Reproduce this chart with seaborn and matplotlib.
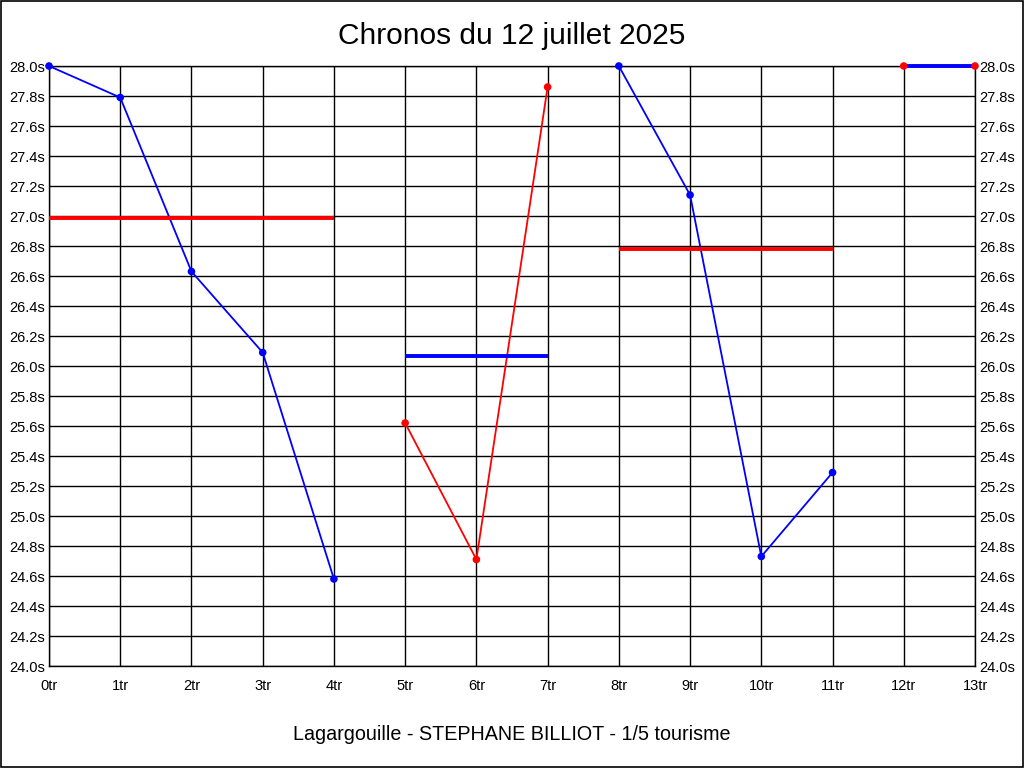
import matplotlib
matplotlib.use("Agg")
import matplotlib.pyplot as plt
import seaborn as sns
import pandas as pd
import numpy as np
from matplotlib.ticker import FixedLocator, FuncFormatter

sns.set_theme(style="white")
plt.rcParams['font.family'] = ['Liberation Sans', 'DejaVu Sans']

# Data
laps = [0, 1, 2, 3, 4, 5, 6, 7, 8, 9, 10, 11, 12, 13]
times = [28.0, 27.79, 26.63, 26.09, 24.58, 25.62, 24.71, 27.86, 28.0, 27.14, 24.73, 25.29, 28.0, 28.0]
segment = [1, 1, 1, 1, 1, 2, 2, 2, 3, 3, 3, 3, 4, 4]
segment_colors = {1: "#0000ff", 2: "#ff0000", 3: "#0000ff", 4: "#ff0000"}
avg_start = [0, 5, 8, 12]
avg_end = [4, 7, 11, 13]
avg_values = [26.99, 26.07, 26.78, 28.0]
avg_colors = ["#ff0000", "#0000ff", "#ff0000", "#0000ff"]
xticklabels = [f"{i}tr" for i in range(14)]
yticks = [24.0 + 0.2 * i for i in range(21)]

df = pd.DataFrame({"lap": laps, "time": times, "segment": segment})

fig = plt.figure(figsize=(10.24, 7.68), dpi=100)
fig.patch.set_facecolor("white")
ax = fig.add_axes([49/1024, 1 - 666/768, 926/1024, 600/768])

for seg, sub in df.groupby("segment"):
    sns.lineplot(data=sub, x="lap", y="time", ax=ax, color=segment_colors[seg],
                 linewidth=1.3, zorder=3, legend=False)

for s, e, v, c in zip(avg_start, avg_end, avg_values, avg_colors):
    avg_df = pd.DataFrame({"lap": [s, e], "time": [v, v]})
    sns.lineplot(data=avg_df, x="lap", y="time", ax=ax, color=c, linewidth=2.8,
                 zorder=4, legend=False)

for seg, sub in df.groupby("segment"):
    sns.scatterplot(data=sub, x="lap", y="time", ax=ax, color=segment_colors[seg],
                    s=30, edgecolor="none", zorder=5, legend=False, clip_on=False)

for line in ax.get_lines():
    line.set_clip_on(False)
    line.set_solid_capstyle("butt")

ax.set_xlim(0, 13)
ax.set_ylim(24.0, 28.0)
ax.xaxis.set_major_locator(FixedLocator(list(range(14))))
ax.set_xticklabels(xticklabels)
ax.yaxis.set_major_locator(FixedLocator(yticks))
ax.yaxis.set_major_formatter(FuncFormatter(lambda v, p: f"{v:.1f}s"))
ax.grid(True, color="black", linewidth=1.0)
ax.set_axisbelow(True)
for sp in ax.spines.values():
    sp.set_color("black")
    sp.set_linewidth(1.0)
ax.tick_params(axis="both", which="both", length=0, labelsize=10.5, colors="black")
ax.tick_params(axis="x", pad=9)
ax.tick_params(axis="y", right=True, labelright=True, left=True, labelleft=True, pad=3)
ax.set_xlabel("")
ax.set_ylabel("")

fig.text(0.5, 1 - 36/768, "Chronos du 12 juillet 2025", ha="center", va="center",
         fontsize=21.5, color="black")
fig.text(0.5, 1 - 735/768, "Lagargouille - STEPHANE BILLIOT - 1/5 tourisme",
         ha="center", va="center", fontsize=14.2, color="black")

border = plt.Rectangle((0.0005, 0.0007), 0.999, 0.9986, transform=fig.transFigure,
                       fill=False, edgecolor="black", linewidth=1.2)
fig.patches.append(border)

fig.savefig("out.png", dpi=100, facecolor="white")
